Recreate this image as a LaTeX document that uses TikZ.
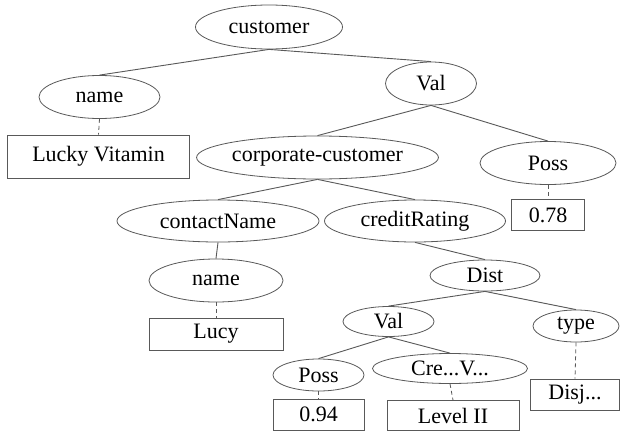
\documentclass[tikz,border=0pt]{standalone}
\usepackage{fontspec}
\setmainfont{Liberation Serif}
\usetikzlibrary{shapes.geometric}
\begin{document}
\begin{tikzpicture}[x=1pt,y=-1pt,
  el/.style={ellipse,draw=black!65,line width=0.8pt,inner sep=0pt,font=\fontsize{22}{25}\selectfont},
  bx/.style={rectangle,draw=black!65,line width=0.8pt,inner sep=0pt,font=\fontsize{22}{25}\selectfont},
  edge/.style={draw=black!65,line width=0.9pt},
  dedge/.style={draw=black!65,line width=0.8pt,dash pattern=on 4pt off 3pt}]
\fill[white] (0,0) rectangle (620,431);
\useasboundingbox (0,0) rectangle (620,431);
\node[el,minimum width=147pt,minimum height=44pt] (customer) at (269,27) {customer};
\node[el,minimum width=121pt,minimum height=43pt] (name) at (99.5,97) {name};
\node[bx,minimum width=182pt,minimum height=43pt] (lv) at (98.5,156.5) {Lucky Vitamin};
\node[el,minimum width=91pt,minimum height=43pt] (val) at (431,83.5) {Val};
\node[el,minimum width=235pt,minimum height=43pt] (cc) at (317.5,157.5) {corporate-customer};
\node[el,minimum width=136pt,minimum height=43pt] (poss) at (548,163) {Poss};
\node[bx,minimum width=73pt,minimum height=31pt] (b078) at (548,215) {0.78};
\node[el,minimum width=202pt,minimum height=42pt] (cn) at (218,221) {contactName};
\node[el,minimum width=181pt,minimum height=42pt] (cr) at (415,221) {creditRating};
\node[el,minimum width=134pt,minimum height=43pt] (name2) at (216,280.5) {name};
\node[bx,minimum width=134pt,minimum height=32pt] (lucy) at (216,334) {Lucy};
\node[el,minimum width=110pt,minimum height=31pt] (dist) at (485,275.5) {Dist};
\node[el,minimum width=91pt,minimum height=30pt] (val2) at (388.5,321.5) {Val};
\node[el,minimum width=86pt,minimum height=32pt] (type) at (576,326) {type};
\node[el,minimum width=91pt,minimum height=32pt] (poss2) at (318.5,375) {Poss};
\node[el,minimum width=155pt,minimum height=30pt] (cre) at (450,368.5) {Cre...V...};
\node[bx,minimum width=91pt,minimum height=31pt] (b094) at (318.5,414.5) {0.94};
\node[bx,minimum width=132pt,minimum height=30pt] (lvl2) at (453,415.5) {Level II};
\node[bx,minimum width=89pt,minimum height=31pt] (disj) at (575,394.5) {Disj...};
\draw[edge] (customer.south) -- (name.north);
\draw[edge] (customer.south) -- (val.north);
\draw[dedge] (name.south) -- (lv.north);
\draw[edge] (val.south) -- (cc.north);
\draw[edge] (val.south) -- (poss.north);
\draw[dedge] (poss.south) -- (b078.north);
\draw[edge] (cc.south) -- (cn.north);
\draw[edge] (cc.south) -- (cr.north);
\draw[edge] (cn.south) -- (name2.north);
\draw[dedge] (name2.south) -- (lucy.north);
\draw[edge] (cr.south) -- (dist.north);
\draw[edge] (dist.south) -- (val2.north);
\draw[edge] (dist.south) -- (type.north);
\draw[edge] (val2.south) -- (poss2.north);
\draw[edge] (val2.south) -- (cre.north);
\draw[dedge] (poss2.south) -- (b094.north);
\draw[dedge] (cre.south) -- (lvl2.north);
\draw[dedge] (type.south) -- (disj.north);
\end{tikzpicture}
\end{document}
